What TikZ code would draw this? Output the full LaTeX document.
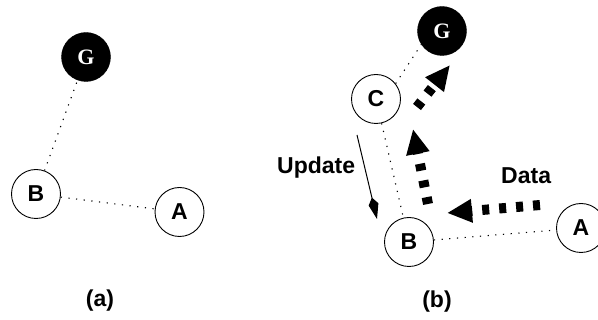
\documentclass[tikz,border=0pt]{standalone}
\usepackage{fontspec}
\setmainfont{Liberation Sans}
\newfontfamily\gfont{Liberation Serif}
\usetikzlibrary{arrows.meta}
\begin{document}
\begin{tikzpicture}[x=1pt,y=-1pt,
  nd/.style={circle,draw,line width=0.9pt,minimum size=49pt,inner sep=0pt,font=\fontsize{23}{23}\selectfont\bfseries},
  gnd/.style={circle,fill=black,draw=black,minimum size=49pt,inner sep=0pt,text=white,font=\gfont\fontsize{22}{22}\selectfont\bfseries},
  dotline/.style={line width=1.1pt,dash pattern=on 1.2pt off 6.5pt},
  bigarrow/.style={line width=10pt,dash pattern=on 7pt off 10pt,-{Triangle[length=25pt,width=22pt]}},
  thinarrow/.style={line width=1pt,-{Kite[length=22pt,width=10pt,inset=7pt]}},
  lbl/.style={font=\fontsize{23}{23}\selectfont\bfseries,inner sep=0pt}]
\useasboundingbox (0,0) rectangle (598,320);
% (a)
\node[gnd] (Ga) at (86,57) {G};
\node[nd] (Ba) at (36,194) {B};
\node[nd] (Aa) at (179.5,212) {A};
\draw[dotline] (Ba) -- (Ga);
\draw[dotline] (Ba) -- (Aa);
\node[lbl] (la) at (100,301) {(a)};
% (b)
\node[gnd] (Gb) at (442,31) {G};
\node[nd] (Cb) at (376,99) {C};
\node[nd] (Bb) at (409,242) {B};
\node[nd] (Ab) at (581,228) {A};
\draw[dotline] (Cb.38) -- (Gb.213);
\draw[dotline] (Cb) -- (Bb);
\draw[dotline] (Bb) -- (Ab);
\coordinate (d1) at (540,205);
\coordinate (d2) at (447,213);
\coordinate (u1) at (428,204);
\coordinate (u2) at (413,129);
\coordinate (g1) at (417,107);
\coordinate (g2) at (450,65);
\draw[bigarrow] (d1) -- (d2);
\draw[bigarrow] (u1) -- (u2);
\draw[bigarrow] (g1) -- (g2);
\coordinate (t1) at (357,135);
\coordinate (t2) at (377,219);
\draw[thinarrow] (t1) -- (t2);
\node[lbl,anchor=base west] (upd) at (277,174) {Update};
\node[lbl,anchor=base west] (dat) at (501,184) {Data};
\node[lbl] (lb) at (437,302) {(b)};
\end{tikzpicture}
\end{document}
